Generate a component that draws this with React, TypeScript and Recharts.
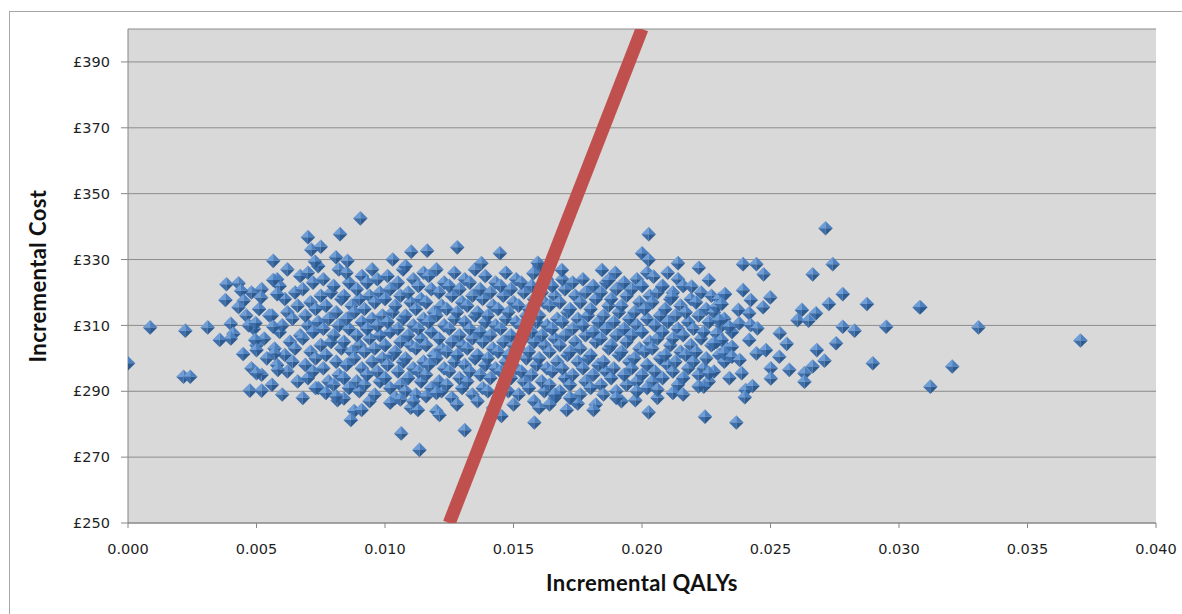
import React from 'react';
import { ScatterChart, Scatter, XAxis, YAxis, CartesianGrid, Label } from 'recharts';

// Tick labels
const xTicks = [0, 0.005, 0.01, 0.015, 0.02, 0.025, 0.03, 0.035, 0.04];
const yTicks = [250, 270, 290, 310, 330, 350, 370, 390];

// Willingness-to-pay threshold line (cost = 20,000 x QALY)
const thresholdQaly = [0.0125, 0.02];
const thresholdCost = [250, 400];

// Sparse / outlying simulations: [incremental QALYs, incremental cost]
const outerPoints: [number, number][] = [
  [0.0, 298.5], [0.00086, 309.4], [0.00223, 308.4], [0.00216, 294.4], [0.00242, 294.4],
  [0.0031, 309.4], [0.00357, 305.6], [0.00383, 322.5], [0.00379, 317.7], [0.004, 310.5],
  [0.0041, 307.5], [0.004, 306.0], [0.0043, 322.8], [0.0044, 320.5], [0.0045, 317.5],
  [0.0043, 315.5], [0.0046, 313.0], [0.0047, 310.0], [0.00448, 301.3], [0.00474, 290.2],
  [0.0052, 290.2], [0.005, 295.5], [0.00496, 310.7], [0.00495, 305.6], [0.005, 302.5],
  [0.00518, 318.5], [0.00565, 329.6], [0.00565, 323.8], [0.0058, 319.5], [0.00565, 309.6],
  [0.0057, 301.5], [0.00583, 296.5], [0.007, 336.8], [0.00713, 333.0], [0.0075, 333.9],
  [0.00727, 329.4], [0.00904, 342.5], [0.00825, 337.7], [0.00809, 330.7], [0.00854, 329.6],
  [0.01102, 332.4], [0.01164, 332.7], [0.01281, 333.7], [0.01447, 331.9], [0.01375, 328.9],
  [0.01594, 329.0], [0.01577, 325.8], [0.02026, 337.7], [0.02, 331.9], [0.02026, 329.9],
  [0.0214, 328.9], [0.02221, 327.5], [0.0226, 323.8], [0.02193, 321.8], [0.01844, 326.8],
  [0.01896, 326.0], [0.01688, 326.8], [0.0187, 323.8], [0.02045, 324.8], [0.02078, 321.8],
  [0.02117, 318.7], [0.02393, 328.6], [0.02445, 328.6], [0.02473, 325.5], [0.02742, 328.6],
  [0.02664, 325.5], [0.02714, 339.5], [0.02323, 319.5], [0.02393, 320.7], [0.02423, 317.7],
  [0.02499, 318.5], [0.02471, 315.5], [0.02781, 319.5], [0.02727, 316.5], [0.02875, 316.5],
  [0.0308, 315.5], [0.02622, 314.7], [0.02677, 313.7], [0.02605, 311.6], [0.02648, 311.4],
  [0.02375, 314.7], [0.02417, 313.7], [0.0229, 315.7], [0.0231, 316.5], [0.023, 311.6],
  [0.02378, 310.6], [0.02423, 310.1], [0.02449, 309.1], [0.02339, 309.6], [0.02781, 309.6],
  [0.02827, 308.4], [0.0295, 309.6], [0.02536, 307.6], [0.02563, 304.4], [0.02755, 304.6],
  [0.0268, 302.5], [0.0271, 299.3], [0.02898, 298.5], [0.02417, 305.6], [0.0229, 307.5],
  [0.0231, 305.6], [0.0228, 304.6], [0.0235, 303.5], [0.0232, 301.5], [0.0235, 300.5],
  [0.0238, 299.5], [0.02482, 302.5], [0.02445, 301.5], [0.02534, 300.5], [0.02573, 296.5],
  [0.02501, 297.0], [0.02501, 293.9], [0.02664, 297.5], [0.02632, 295.5], [0.02632, 292.9],
  [0.02388, 295.5], [0.0226, 295.5], [0.02403, 290.4], [0.0243, 291.6], [0.024, 288.2],
  [0.0224, 291.4], [0.02245, 282.3], [0.02367, 280.5], [0.03083, 315.5], [0.03309, 309.4],
  [0.03706, 305.4], [0.03207, 297.5], [0.03122, 291.4], [0.01707, 284.3], [0.0175, 286.3],
  [0.01811, 284.3], [0.01581, 280.5], [0.02026, 283.6], [0.01974, 287.3], [0.01453, 282.5],
  [0.00867, 281.3], [0.00909, 284.3], [0.00815, 287.3], [0.0084, 287.8], [0.01063, 277.2],
  [0.01134, 272.2], [0.01212, 282.8], [0.0131, 278.2], [0.01128, 284.3], [0.0102, 286.5],
  [0.0106, 287.5], [0.0111, 287.0], [0.0116, 288.5], [0.012, 289.5], [0.0073, 291.0],
  [0.0077, 289.5], [0.0081, 288.5], [0.0164, 286.0], [0.0172, 288.0], [0.0166, 289.0],
  [0.0185, 289.0], [0.019, 288.0], [0.0198, 290.0], [0.0202, 291.0], [0.0206, 290.5],
  [0.0212, 289.5], [0.0216, 289.0], [0.0222, 291.5],
];

// Dense core of the cloud: [incremental QALYs, incremental cost]
const corePoints: [number, number][] = [
  [0.0048, 297], [0.005, 304], [0.0049, 309], [0.0051, 315], [0.0048, 320],
  [0.0052, 295], [0.0054, 300], [0.0053, 306], [0.0055, 313], [0.0052, 321],
  [0.0056, 292], [0.0058, 298], [0.0057, 303], [0.0059, 308], [0.0056, 313], [0.0058, 324],
  [0.006, 289], [0.0062, 296], [0.0061, 301], [0.0063, 305], [0.006, 310], [0.0062, 314], [0.0061, 318], [0.0059, 322], [0.0062, 327],
  [0.0066, 293], [0.0064, 299], [0.0065, 303], [0.0067, 307], [0.0064, 312], [0.0066, 316], [0.0065, 320], [0.0067, 325],
  [0.0068, 288], [0.007, 294], [0.0069, 298], [0.0071, 302], [0.0068, 306], [0.007, 310], [0.0069, 313], [0.0071, 317], [0.0068, 321], [0.007, 326],
  [0.0074, 291], [0.0072, 296], [0.0073, 300], [0.0075, 304], [0.0072, 308], [0.0074, 311], [0.0073, 315], [0.0075, 319], [0.0072, 323], [0.0074, 328],
  [0.0078, 293], [0.0076, 297], [0.0077, 301], [0.0079, 305], [0.0076, 309], [0.0078, 312], [0.0077, 316], [0.0079, 320], [0.0076, 324],
  [0.008, 292], [0.0082, 295], [0.0081, 299], [0.0083, 303], [0.008, 307], [0.0082, 310], [0.0081, 314], [0.0083, 318], [0.008, 322], [0.0082, 327],
  [0.0086, 291], [0.0084, 294], [0.0085, 298], [0.0087, 302], [0.0084, 305], [0.0086, 309], [0.0085, 312], [0.0087, 316], [0.0084, 319], [0.0086, 323], [0.0085, 326],
  [0.0088, 284], [0.009, 290], [0.0089, 293], [0.0091, 297], [0.0088, 300], [0.009, 304], [0.0089, 307], [0.0091, 311], [0.0088, 314], [0.009, 318], [0.0089, 321], [0.0091, 325],
  [0.0094, 287], [0.0092, 292], [0.0093, 295], [0.0095, 299], [0.0092, 302], [0.0094, 306], [0.0093, 309], [0.0095, 312], [0.0092, 315], [0.0094, 319], [0.0093, 323], [0.0095, 327],
  [0.0096, 289], [0.0098, 293], [0.0097, 296], [0.0099, 300], [0.0096, 303], [0.0098, 307], [0.0097, 310], [0.0099, 313], [0.0096, 317], [0.0098, 320], [0.0097, 324],
  [0.0102, 291], [0.01, 294], [0.0101, 298], [0.0103, 301], [0.01, 304], [0.0102, 308], [0.0101, 311], [0.0103, 314], [0.01, 318], [0.0102, 321], [0.0101, 325], [0.0103, 330],
  [0.0104, 288], [0.0106, 292], [0.0105, 296], [0.0107, 299], [0.0104, 302], [0.0106, 305], [0.0105, 309], [0.0107, 312], [0.0104, 316], [0.0106, 319], [0.0105, 323], [0.0107, 327],
  [0.011, 285], [0.0108, 290], [0.0109, 294], [0.0111, 297], [0.0108, 300], [0.011, 304], [0.0109, 307], [0.0111, 310], [0.0108, 313], [0.011, 317], [0.0109, 320], [0.0111, 324], [0.0108, 328],
  [0.0112, 289], [0.0114, 293], [0.0113, 296], [0.0115, 299], [0.0112, 303], [0.0114, 306], [0.0113, 309], [0.0115, 312], [0.0112, 315], [0.0114, 318], [0.0113, 322], [0.0115, 326],
  [0.0118, 291], [0.0116, 295], [0.0117, 298], [0.0119, 301], [0.0116, 304], [0.0118, 308], [0.0117, 311], [0.0119, 314], [0.0116, 317], [0.0118, 321], [0.0117, 325],
  [0.012, 284], [0.0122, 290], [0.0121, 293], [0.0123, 297], [0.012, 300], [0.0122, 303], [0.0121, 306], [0.0123, 310], [0.012, 313], [0.0122, 316], [0.0121, 320], [0.0123, 323], [0.012, 327],
  [0.0126, 288], [0.0124, 292], [0.0125, 296], [0.0127, 299], [0.0124, 302], [0.0126, 305], [0.0125, 309], [0.0127, 312], [0.0124, 315], [0.0126, 319], [0.0125, 322], [0.0127, 326],
  [0.0128, 286], [0.013, 291], [0.0129, 294], [0.0131, 298], [0.0128, 301], [0.013, 304], [0.0129, 307], [0.0131, 311], [0.0128, 314], [0.013, 317], [0.0129, 321], [0.0131, 324],
  [0.0134, 289], [0.0132, 293], [0.0133, 296], [0.0135, 300], [0.0132, 303], [0.0134, 306], [0.0133, 309], [0.0135, 313], [0.0132, 316], [0.0134, 319], [0.0133, 323], [0.0135, 327],
  [0.0136, 287], [0.0138, 291], [0.0137, 295], [0.0139, 298], [0.0136, 301], [0.0138, 305], [0.0137, 308], [0.0139, 311], [0.0136, 314], [0.0138, 318], [0.0137, 321], [0.0139, 325],
  [0.0142, 285], [0.014, 290], [0.0141, 294], [0.0143, 297], [0.014, 300], [0.0142, 303], [0.0141, 307], [0.0143, 310], [0.014, 313], [0.0142, 316], [0.0141, 320], [0.0143, 323],
  [0.0144, 288], [0.0146, 292], [0.0145, 296], [0.0147, 299], [0.0144, 302], [0.0146, 305], [0.0145, 309], [0.0147, 312], [0.0144, 315], [0.0146, 319], [0.0145, 322], [0.0147, 326],
  [0.015, 286], [0.0148, 290], [0.0149, 294], [0.0151, 297], [0.0148, 301], [0.015, 304], [0.0149, 307], [0.0151, 311], [0.0148, 314], [0.015, 317], [0.0149, 321], [0.0151, 324],
  [0.0152, 289], [0.0154, 293], [0.0153, 296], [0.0155, 300], [0.0152, 303], [0.0154, 306], [0.0153, 310], [0.0155, 313], [0.0152, 316], [0.0154, 320], [0.0153, 323],
  [0.0158, 287], [0.0156, 291], [0.0157, 295], [0.0159, 298], [0.0156, 302], [0.0158, 305], [0.0157, 308], [0.0159, 311], [0.0156, 315], [0.0158, 318], [0.0157, 322],
  [0.016, 285], [0.0162, 290], [0.0161, 293], [0.0163, 297], [0.016, 300], [0.0162, 304], [0.0161, 307], [0.0163, 310], [0.016, 313], [0.0162, 317], [0.0161, 320], [0.0163, 324], [0.016, 328],
  [0.0166, 288], [0.0164, 292], [0.0165, 296], [0.0167, 299], [0.0164, 302], [0.0166, 306], [0.0165, 309], [0.0167, 312], [0.0164, 316], [0.0166, 319], [0.0165, 322],
  [0.0168, 290], [0.017, 294], [0.0169, 297], [0.0171, 301], [0.0168, 304], [0.017, 307], [0.0169, 311], [0.0171, 314], [0.0168, 317], [0.017, 321], [0.0169, 324],
  [0.0174, 287], [0.0172, 292], [0.0173, 295], [0.0175, 299], [0.0172, 302], [0.0174, 305], [0.0173, 309], [0.0175, 312], [0.0172, 315], [0.0174, 319], [0.0173, 323],
  [0.0176, 289], [0.0178, 293], [0.0177, 297], [0.0179, 300], [0.0176, 303], [0.0178, 307], [0.0177, 310], [0.0179, 313], [0.0176, 317], [0.0178, 320], [0.0177, 324],
  [0.0182, 286], [0.018, 291], [0.0181, 295], [0.0183, 298], [0.018, 301], [0.0182, 305], [0.0181, 308], [0.0183, 311], [0.018, 315], [0.0182, 318], [0.0181, 322],
  [0.0184, 292], [0.0186, 296], [0.0185, 299], [0.0187, 303], [0.0184, 306], [0.0186, 309], [0.0185, 313], [0.0187, 316], [0.0184, 320], [0.0186, 323],
  [0.019, 290], [0.0188, 294], [0.0189, 297], [0.0191, 301], [0.0188, 304], [0.019, 307], [0.0189, 311], [0.0191, 314], [0.0188, 318], [0.019, 321],
  [0.0192, 287], [0.0194, 292], [0.0193, 295], [0.0195, 299], [0.0192, 302], [0.0194, 305], [0.0193, 309], [0.0195, 312], [0.0192, 316], [0.0194, 319], [0.0193, 323],
  [0.0198, 293], [0.0196, 297], [0.0197, 300], [0.0199, 303], [0.0196, 307], [0.0198, 310], [0.0197, 314], [0.0199, 317], [0.0196, 321], [0.0198, 324],
  [0.02, 295], [0.0202, 298], [0.0201, 302], [0.0203, 305], [0.02, 308], [0.0202, 312], [0.0201, 315], [0.0203, 319], [0.02, 322], [0.0202, 326],
  [0.0206, 288], [0.0204, 293], [0.0205, 296], [0.0207, 300], [0.0204, 303], [0.0206, 306], [0.0205, 310], [0.0207, 313], [0.0204, 317], [0.0206, 320],
  [0.0208, 294], [0.021, 298], [0.0209, 301], [0.0211, 304], [0.0208, 308], [0.021, 311], [0.0209, 315], [0.0211, 318], [0.0208, 322], [0.021, 326],
  [0.0214, 292], [0.0212, 296], [0.0213, 299], [0.0215, 302], [0.0212, 306], [0.0214, 309], [0.0213, 313], [0.0215, 316], [0.0212, 320], [0.0214, 324],
  [0.0216, 294], [0.0218, 297], [0.0217, 301], [0.0219, 304], [0.0216, 307], [0.0218, 311], [0.0217, 314], [0.0219, 318], [0.0216, 322],
  [0.0222, 295], [0.022, 299], [0.0221, 302], [0.0223, 306], [0.022, 309], [0.0222, 313], [0.0221, 317], [0.0223, 320],
  [0.0226, 293], [0.0224, 297], [0.0225, 300], [0.0227, 304], [0.0224, 308], [0.0226, 311], [0.0225, 315], [0.0227, 319],
  [0.0228, 296], [0.023, 301], [0.0229, 305], [0.0231, 310], [0.0228, 314], [0.023, 318],
  [0.0234, 294], [0.0232, 299], [0.0233, 303], [0.0235, 308], [0.0232, 312],
];

const simData = [...corePoints, ...outerPoints].map(([x, y]) => ({ x, y }));
const lineData = thresholdQaly.map((x, i) => ({ x, y: thresholdCost[i] }));

const tickFont = { fontFamily: 'DejaVu Sans', fontSize: 14.5, fill: '#1f1f1f' };
const titleFont = { fontFamily: 'Lato', fontWeight: 700, fontSize: 22, fill: '#111', letterSpacing: 0.4 };

const Diamond = (props: any) => {
  const { cx, cy } = props;
  if (cx == null || cy == null || isNaN(cx) || isNaN(cy)) return <g />;
  const r = 7.3;
  return (
    <g>
      <polygon points={`${cx},${cy - r} ${cx - r},${cy} ${cx},${cy}`} fill="#6F9DD6" />
      <polygon points={`${cx},${cy - r} ${cx + r},${cy} ${cx},${cy}`} fill="#4C80C0" />
      <polygon points={`${cx - r},${cy} ${cx},${cy + r} ${cx},${cy}`} fill="#3D6EA9" />
      <polygon points={`${cx + r},${cy} ${cx},${cy + r} ${cx},${cy}`} fill="#2D5A8F" />
    </g>
  );
};

const NoShape = () => <g />;

export default function App() {
  return (
    <div style={{ position: 'absolute', left: 0, top: 0, width: 1182, height: 614, background: '#fff', overflow: 'hidden' }}>
      <div style={{ position: 'absolute', left: 9, top: 11, width: 1300, height: 800, borderTop: '1px solid #A6A6A6', borderLeft: '1px solid #A6A6A6' }} />
      <div style={{ position: 'absolute', left: 0, top: 0 }}>
        <ScatterChart width={1182} height={614} margin={{ top: 29, right: 26, bottom: 0, left: 28 }}>
          <CartesianGrid horizontal vertical={false} stroke="#8C8C8C" fill="#D9D9D9" fillOpacity={1} />
          <XAxis
            type="number"
            dataKey="x"
            domain={[0, 0.04]}
            ticks={xTicks}
            tickFormatter={(v: number) => v.toFixed(3)}
            height={91}
            tickSize={5}
            tickMargin={16}
            stroke="#868686"
            tick={tickFont}
            allowDataOverflow
          >
            <Label value="Incremental QALYs" position="insideBottom" offset={23} {...titleFont} />
          </XAxis>
          <YAxis
            type="number"
            dataKey="y"
            domain={[250, 400]}
            ticks={yTicks}
            tickFormatter={(v: number) => `£${v}`}
            width={100}
            tickSize={7}
            tickMargin={11}
            stroke="#868686"
            tick={tickFont}
            allowDataOverflow
          >
            <Label value="Incremental Cost" position="insideLeft" angle={-90} offset={10} style={{ textAnchor: 'middle' }} {...titleFont} />
          </YAxis>
          <Scatter data={simData} shape={Diamond} isAnimationActive={false} fill="#4F81BD" />
          <Scatter
            data={lineData}
            fill="#C0504D"
            line={{ stroke: '#C0504D', strokeWidth: 13 }}
            shape={NoShape}
            isAnimationActive={false}
          />
        </ScatterChart>
      </div>
    </div>
  );
}
